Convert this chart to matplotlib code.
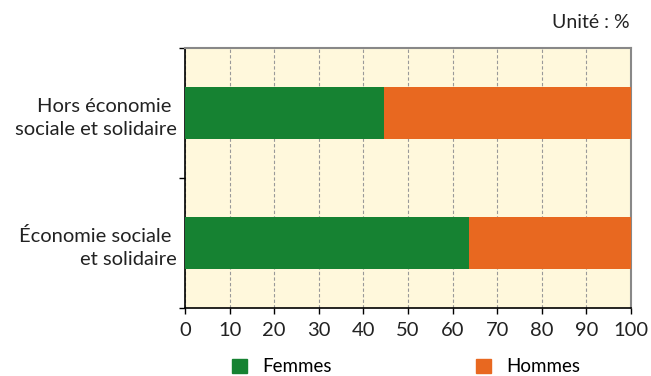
import matplotlib
matplotlib.use("Agg")
import matplotlib.pyplot as plt
from matplotlib.patches import Patch

categories = ["Économie sociale \net solidaire", "Hors économie \nsociale et solidaire"]
femmes = [63.6, 44.6]
hommes = [36.4, 55.4]
xticks = [0, 10, 20, 30, 40, 50, 60, 70, 80, 90, 100]

green = "#168232"
orange = "#E86820"
bg = "#FFF8DC"

plt.rcParams['font.family'] = ['Lato', 'DejaVu Sans']

fig = plt.figure(figsize=(6.51, 3.76), dpi=100)
ax = fig.add_axes([185/651, 1-308/376, (631-185)/651, (308-48)/376])
ax.set_facecolor(bg)

y = [0, 1]
ax.barh(y, femmes, height=0.4, color=green, label="Femmes", zorder=3)
ax.barh(y, hommes, left=femmes, height=0.4, color=orange, label="Hommes", zorder=3)

ax.set_xlim(0, 100)
ax.set_ylim(-0.5, 1.5)
ax.set_xticks(xticks)
ax.set_xticklabels([str(v) for v in xticks], fontsize=14.5, color="#222222")
ax.set_yticks([-0.5, 0.5, 1.5])
ax.set_yticklabels([])
ax.set_yticks(y, minor=True)
ax.set_yticklabels(categories, minor=True, fontsize=14.5, color="#222222", ha="right", linespacing=1.45)
ax.tick_params(axis='y', which='minor', length=0, pad=6)
ax.tick_params(axis='y', which='major', length=4, width=1, color="black")
ax.tick_params(axis='x', length=4, width=1, color="black", pad=6)

ax.grid(axis='x', linestyle=(0, (3, 2)), color="#999999", linewidth=0.8, zorder=1)
ax.set_axisbelow(True)

for s in ['left', 'bottom']:
    ax.spines[s].set_color("black")
    ax.spines[s].set_linewidth(1.2)
for s in ['top', 'right']:
    ax.spines[s].set_color("#888888")
    ax.spines[s].set_linewidth(1.5)

fig.text(630/651, 1-22/376, "Unité : %", ha="right", va="center", fontsize=14, color="#222222")

handles = [Patch(color=green, label="Femmes"), Patch(color=orange, label="Hommes")]
fig.legend(handles=handles, loc="center", bbox_to_anchor=(406/651, 1-367/376), ncol=2,
           frameon=False, fontsize=13.5, handlelength=0.8, handleheight=0.8,
           columnspacing=7.7, handletextpad=0.8)

fig.savefig("out.png", dpi=100)
